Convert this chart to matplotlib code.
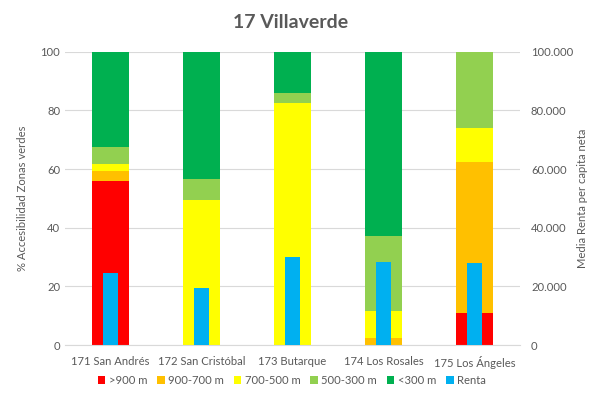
import numpy as np
import matplotlib.pyplot as plt
from matplotlib.ticker import FuncFormatter

plt.rcParams['font.family'] = ['Lato', 'DejaVu Sans']

barrios = ['171 San Andrés', '172 San Cristóbal', '173 Butarque', '174 Los Rosales', '175 Los Ángeles']
mas900 = [56.0, 0, 0, 0, 10.9]
de900a700 = [3.4, 0, 0, 2.5, 51.6]
de700a500 = [2.4, 49.5, 82.7, 9.2, 11.6]
de500a300 = [5.8, 7.2, 3.1, 25.5, 25.9]
menos300 = [32.4, 43.3, 14.2, 62.8, 0]
renta = [24700, 19500, 30000, 28300, 28100]

series = [('>900 m', mas900, '#FF0000'),
          ('900-700 m', de900a700, '#FFC000'),
          ('700-500 m', de700a500, '#FFFF00'),
          ('500-300 m', de500a300, '#92D050'),
          ('<300 m', menos300, '#00B050')]

gris = '#595959'
fs = 8.1
x = np.arange(len(barrios))

fig = plt.figure(figsize=(6.08, 4.08), dpi=100)
ax = fig.add_axes([0.107, 0.154, 0.748, 0.719])

bottom = np.zeros(len(barrios))
handles = []
for nombre, vals, col in series:
    b = ax.bar(x, vals, 0.4, bottom=bottom, color=col, label=nombre, zorder=2)
    handles.append(b)
    bottom += np.array(vals)

ax.set_ylim(0, 100)
ax.set_xlim(-0.5, len(barrios) - 0.5)
ax.set_yticks(np.arange(0, 101, 20))
ax.yaxis.grid(True, color='#D9D9D9', linewidth=0.8, zorder=0)
ax.set_axisbelow(True)
for s in ['top', 'right', 'left']:
    ax.spines[s].set_visible(False)
ax.spines['bottom'].set_color('#D9D9D9')
ax.tick_params(axis='both', length=0, colors=gris, labelsize=fs)
ax.tick_params(axis='x', pad=8)
ax.set_xticks(x, barrios)
ax.set_ylabel('% Accesibilidad Zonas verdes', color=gris, fontsize=fs, labelpad=9)

ax2 = ax.twinx()
b2 = ax2.bar(x, renta, 0.17, color='#00B0F0', label='Renta', zorder=3)
handles.append(b2)
ax2.set_ylim(0, 100000)
ax2.set_yticks(np.arange(0, 100001, 20000))
ax2.yaxis.set_major_formatter(FuncFormatter(lambda v, p: f'{int(v):,}'.replace(',', '.')))
for s in ['top', 'right', 'left', 'bottom']:
    ax2.spines[s].set_visible(False)
ax2.tick_params(axis='y', length=0, colors=gris, labelsize=fs, pad=8)
ax2.set_ylabel('Media Renta per capita neta', color=gris, fontsize=fs, labelpad=3)

fig.suptitle('17 Villaverde', x=0.478, y=0.965, fontsize=14, fontweight='bold', color=gris)

fig.legend(handles=handles, labels=[h.get_label() for h in handles], loc='center',
           bbox_to_anchor=(0.48, 0.068), ncol=6, frameon=False, fontsize=fs,
           handlelength=0.65, handleheight=0.65, handletextpad=0.3, columnspacing=0.9,
           labelcolor=gris)

plt.savefig('out.png', dpi=100)
